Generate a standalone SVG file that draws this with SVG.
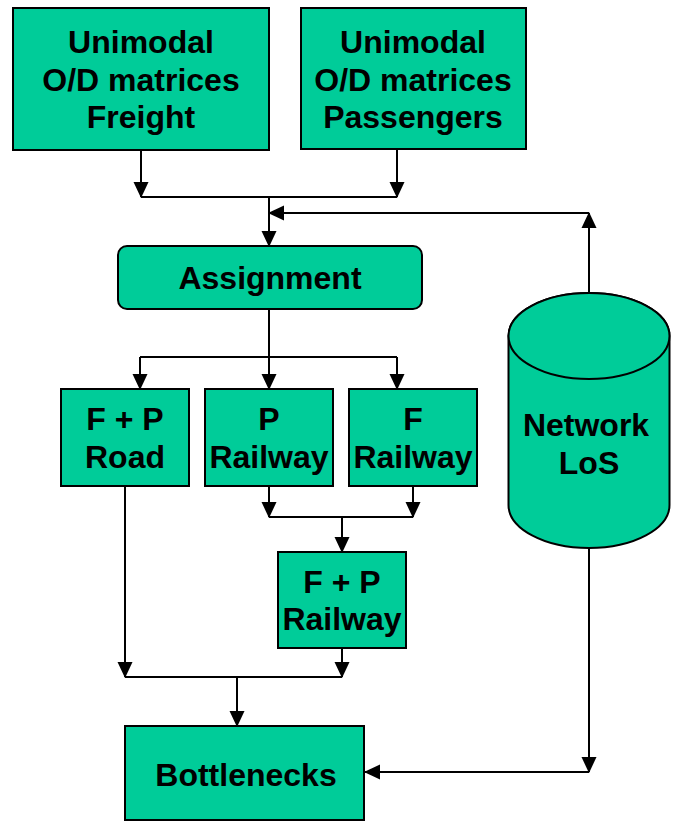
<svg xmlns="http://www.w3.org/2000/svg" width="674" height="822" viewBox="0 0 674 822">
  <defs>
    <marker id="arrow" viewBox="0 0 16 16" refX="15" refY="8" markerWidth="16" markerHeight="16" markerUnits="userSpaceOnUse" orient="auto">
      <path d="M0,0.5 L16,8 L0,15.5 z" fill="#000"/>
    </marker>
  </defs>
  <style>
    .box { fill: #00CC99; stroke: #000; stroke-width: 2; }
    .lbl { font-family: "Liberation Sans", Arial, sans-serif; font-weight: bold; font-size: 32px; fill: #000; text-anchor: middle; }
    .wire { fill: none; stroke: #000; stroke-width: 2; }
    .wire.arr { marker-end: url(#arrow); }
  </style>
  <rect width="674" height="822" fill="#fff"/>

  <!-- connectors -->
  <g id="connectors">
    <path class="wire arr" d="M141,150 V197"/>
    <path class="wire arr" d="M397,150 V197"/>
    <path class="wire" d="M141,197 H397"/>
    <path class="wire arr" d="M269,197 V246"/>
    <path class="wire arr" d="M589,293 V213"/>
    <path class="wire arr" d="M589,213 H269"/>
    <path class="wire arr" d="M269,309 V389"/>
    <path class="wire" d="M140,357 H397"/>
    <path class="wire arr" d="M140,357 V389"/>
    <path class="wire arr" d="M397,357 V389"/>
    <path class="wire arr" d="M269,486 V517"/>
    <path class="wire arr" d="M413,486 V517"/>
    <path class="wire" d="M269,517 H413"/>
    <path class="wire arr" d="M342,517 V552"/>
    <path class="wire arr" d="M125,486 V677"/>
    <path class="wire arr" d="M342,648 V677"/>
    <path class="wire" d="M125,677 H342"/>
    <path class="wire arr" d="M237,677 V726"/>
    <path class="wire arr" d="M589,548 V772"/>
    <path class="wire arr" d="M589,772 H365"/>
  </g>

  <g id="od-freight">
    <rect class="box" x="13" y="8" width="256" height="142"/>
    <text class="lbl" x="141" y="53">Unimodal</text>
    <text class="lbl" x="141" y="91">O/D matrices</text>
    <text class="lbl" x="141" y="128">Freight</text>
  </g>

  <g id="od-passengers">
    <rect class="box" x="301" y="8" width="225" height="141"/>
    <text class="lbl" x="413" y="53">Unimodal</text>
    <text class="lbl" x="413" y="91">O/D matrices</text>
    <text class="lbl" x="413" y="128">Passengers</text>
  </g>

  <g id="assignment">
    <rect class="box" x="118" y="246" width="304" height="63" rx="9"/>
    <text class="lbl" x="270" y="289">Assignment</text>
  </g>

  <g id="road">
    <rect class="box" x="61" y="389" width="128" height="97"/>
    <text class="lbl" x="125" y="430">F + P</text>
    <text class="lbl" x="125" y="468">Road</text>
  </g>

  <g id="p-railway">
    <rect class="box" x="205" y="389" width="128" height="97"/>
    <text class="lbl" x="269" y="430">P</text>
    <text class="lbl" x="269" y="468">Railway</text>
  </g>

  <g id="f-railway">
    <rect class="box" x="349" y="389" width="128" height="97"/>
    <text class="lbl" x="413" y="430">F</text>
    <text class="lbl" x="413" y="468">Railway</text>
  </g>

  <g id="fp-railway">
    <rect class="box" x="278" y="552" width="128" height="96"/>
    <text class="lbl" x="342" y="593">F + P</text>
    <text class="lbl" x="342" y="630">Railway</text>
  </g>

  <g id="network-los">
    <path class="box" d="M508.5,336 V505 A80.5,43 0 0 0 669.5,505 V336 A80.5,43 0 0 0 508.5,336 Z"/>
    <ellipse class="box" cx="589" cy="336" rx="80.5" ry="43"/>
    <text class="lbl" x="586" y="436">Network</text>
    <text class="lbl" x="589" y="474">LoS</text>
  </g>

  <g id="bottlenecks">
    <rect class="box" x="125" y="726" width="239" height="94"/>
    <text class="lbl" x="246" y="786">Bottlenecks</text>
  </g>
</svg>
